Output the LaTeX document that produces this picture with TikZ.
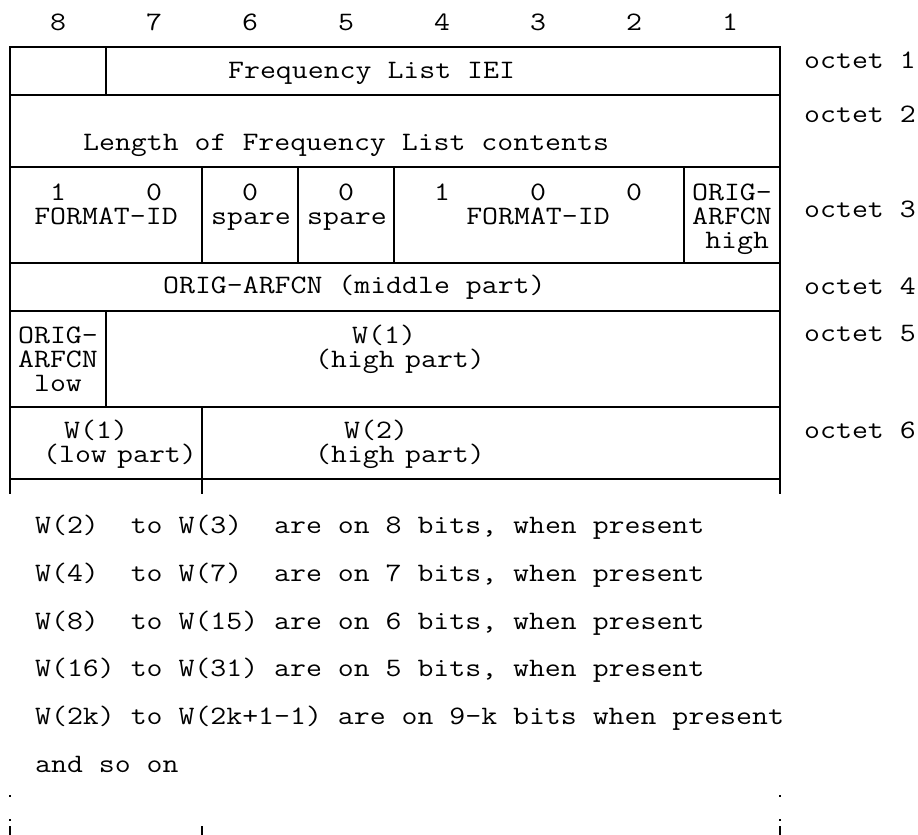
\documentclass[tikz,border=0pt]{standalone}
\usepackage{graphicx}
\newcommand\T[1]{\scalebox{1.163}[1]{#1}}
\begin{document}
\begin{tikzpicture}[x=1pt,y=-1pt,
  rule/.style={line width=2pt,line cap=rect},
  lbl/.style={inner sep=0pt,anchor=base,font=\fontsize{26.6}{24}\selectfont\ttfamily},
  lbll/.style={lbl,anchor=base west},
  multi/.style={lbl,text width=#1,align=center},
  dotmark/.style={fill=black}]
\useasboundingbox (0,0) rectangle (918,835);
% column numbers
\foreach \n [count=\i from 0] in {8,7,6,5,4,3,2,1}
  \node[lbl] (bit\n) at (58+96*\i,30) {\T{\n}};
% horizontal rules
\foreach \yy in {47,95,167,263,311,407,479}
  \draw[rule] (10,\yy) -- (780,\yy);
% outer verticals
\draw[rule] (10,47) -- (10,493);
\draw[rule] (780,47) -- (780,493);
% inner verticals
\draw[rule] (106,47) -- (106,95);
\foreach \xx in {202,298,394,684}
  \draw[rule] (\xx,167) -- (\xx,263);
\draw[rule] (106,311) -- (106,407);
\draw[rule] (202,407) -- (202,493);
% continuation marks
\foreach \xx in {10,780}{
  \fill[dotmark] (\xx-1,795) rectangle (\xx+1,797);
  \fill[dotmark] (\xx-1,819) rectangle (\xx+1,821);
}
\foreach \xx in {10,202,780}
  \draw[line width=2pt] (\xx,826) -- (\xx,835);
% octet 1
\node[lbll] (iei) at (228,78) {\T{Frequency List IEI}};
% octet 2
\node[lbll] (len) at (83,150) {\T{Length of Frequency List contents}};
% octet 3
\node[lbl] (f1a) at (58,200) {\T{1}};
\node[lbl] (f1b) at (154,200) {\T{0}};
\node[lbl] (fid1) at (106,224) {\T{FORMAT-ID}};
\node[lbl] (s1v) at (250,200) {\T{0}};
\node[lbl] (s1) at (251,224) {\T{spare}};
\node[lbl] (s2v) at (346,200) {\T{0}};
\node[lbl] (s2) at (347,224) {\T{spare}};
\node[lbl] (f2a) at (442,200) {\T{1}};
\node[lbl] (f2b) at (538,200) {\T{0}};
\node[lbl] (f2c) at (634,200) {\T{0}};
\node[lbl] (fid2) at (538,224) {\T{FORMAT-ID}};
\node[multi=90pt] (oh) at (732,200) {\T{ORIG-}\\\T{ARFCN}\\\T{\ high}};
% octet 4
\node[lbll] (mid) at (163,293) {\T{ORIG-ARFCN (middle part)}};
% octet 5
\node[multi=90pt] (ol) at (58,343) {\T{ORIG-}\\\T{ARFCN}\\\T{low}};
\node[multi=200pt] (w1h) at (400,343) {\T{W(1)\phantom{xx}}\\\T{(high part)}};
% octet 6
\node[multi=180pt] (w1l) at (120,438) {\T{W(1)\phantom{xxx}}\\\T{(low part)}};
\node[multi=200pt] (w2h) at (400,438) {\T{W(2)\phantom{xxx}}\\\T{(high part)}};
% octet labels
\node[lbll] (o1) at (804,68) {\T{octet 1}};
\node[lbll] (o2) at (804,122) {\T{octet 2}};
\node[lbll] (o3) at (804,217) {\T{octet 3}};
\node[lbll] (o4) at (804,294) {\T{octet 4}};
\node[lbll] (o5) at (804,341) {\T{octet 5}};
\node[lbll] (o6) at (804,438) {\T{octet 6}};
% notes
\node[lbll] (n1) at (35,533) {\T{W(2)\ \ to W(3)\ \ are on 8 bits, when present}};
\node[lbll] (n2) at (35,581) {\T{W(4)\ \ to W(7)\ \ are on 7 bits, when present}};
\node[lbll] (n3) at (35,629) {\T{W(8)\ \ to W(15) are on 6 bits, when present}};
\node[lbll] (n4) at (35,676) {\T{W(16) to W(31) are on 5 bits, when present}};
\node[lbll] (n5) at (35,724) {\T{W(2k) to W(2k+1-1) are on 9-k bits when present}};
\node[lbll] (n6) at (35,772) {\T{and so on}};
\end{tikzpicture}
\end{document}
